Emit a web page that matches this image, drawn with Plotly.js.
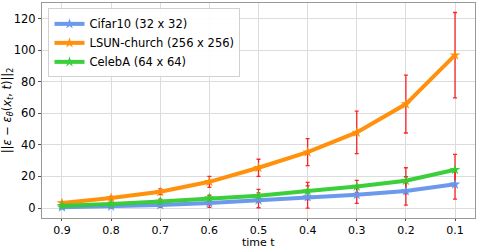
<!DOCTYPE html>
<html><head><meta charset="utf-8">
<script src="https://cdn.plot.ly/plotly-3.0.1.min.js"></script>
<style>html,body{margin:0;padding:0;background:#fff;}#c{width:478px;height:248px;}</style>
</head><body><div id="c"></div>
<script>
const t = [0.9, 0.8, 0.7, 0.6, 0.5, 0.4, 0.3, 0.2, 0.1];
const tickLabels = ['0.9','0.8','0.7','0.6','0.5','0.4','0.3','0.2','0.1'];
const cifar = [0.5, 1.0, 1.9, 3.2, 4.9, 7.0, 8.4, 10.8, 15.0];
const cifarErr = [0.3, 0.8, 1.5, 2.8, 4.7, 7.0, 5.4, 9.0, 9.3];
const lsun = [3.2, 6.3, 10.3, 16.6, 25.5, 35.4, 47.9, 65.8, 96.8];
const lsunErr = [0.6, 1.0, 1.8, 3.5, 5.4, 8.5, 13.4, 18.3, 27.0];
const celeba = [1.5, 2.5, 4.2, 6.3, 7.8, 10.8, 13.7, 17.3, 24.2];
const celebaErr = [0.5, 1.0, 1.5, 1.8, 4.0, 5.5, 3.8, 8.2, 9.8];
const names = ['Cifar10 (32 x 32)', 'LSUN-church (256 x 256)', 'CelebA (64 x 64)'];
const colors = ['#6495ED', '#FF8C00', '#32CD32'];
const series = [[cifar, cifarErr], [lsun, lsunErr], [celeba, celebaErr]];

const traces = [];
series.forEach((s, i) => {
  traces.push({x: t, y: s[0], mode: 'markers', showlegend: false, hoverinfo: 'skip',
    marker: {opacity: 0, size: 1},
    error_y: {type: 'data', array: s[1], visible: true, color: 'rgba(255,0,0,0.85)', thickness: 1.3, width: 2}});
});
series.forEach((s, i) => {
  traces.push({x: t, y: s[0], name: names[i], mode: 'lines+markers',
    line: {color: colors[i], width: 4},
    marker: {symbol: 'star', size: 8, color: colors[i], line: {width: 0}},
    opacity: 0.95});
});

const layout = {
  width: 478, height: 248,
  margin: {l: 42, r: 3, t: 3, b: 30},
  paper_bgcolor: '#fff', plot_bgcolor: '#fff',
  font: {family: 'DejaVu Sans', size: 11, color: '#000'},
  xaxis: {range: [0.9407, 0.0593], tickvals: t, ticktext: tickLabels,
    showgrid: true, gridcolor: '#dcdcdc', gridwidth: 1, zeroline: false,
    showline: true, linecolor: '#999', linewidth: 1, mirror: true,
    ticks: 'outside', ticklen: 1.5, tickcolor: '#555', tickfont: {size: 11}},
  yaxis: {range: [-6.3, 129.8], tickvals: [0, 20, 40, 60, 80, 100, 120],
    showgrid: true, gridcolor: '#dcdcdc', gridwidth: 1, zeroline: false,
    showline: true, linecolor: '#999', linewidth: 1, mirror: true,
    ticks: 'outside', ticklen: 3, tickcolor: '#555', tickfont: {size: 11.5},
    title: {text: '||<i>ε</i> − <i>ε</i><sub><i>θ</i></sub>(<i>x</i><sub><i>t</i></sub>, <i>t</i>)||<sub>2</sub>', font: {size: 11.5}, standoff: 4}},
  annotations: [{text: 'time t', xref: 'paper', yref: 'paper', x: 0.5, y: 0,
    xanchor: 'center', yanchor: 'top', yshift: -17, borderpad: 0, showarrow: false, font: {size: 11}}],
  legend: {x: 0.015, y: 0.975, xanchor: 'left', yanchor: 'top',
    bgcolor: 'rgba(255,255,255,0.9)', bordercolor: '#d0d0d0', borderwidth: 1,
    font: {size: 11.5}, tracegroupgap: 0, itemwidth: 30},
  showlegend: true
};
Plotly.newPlot('c', traces, layout, {staticPlot: true, displayModeBar: false});
</script></body></html>
